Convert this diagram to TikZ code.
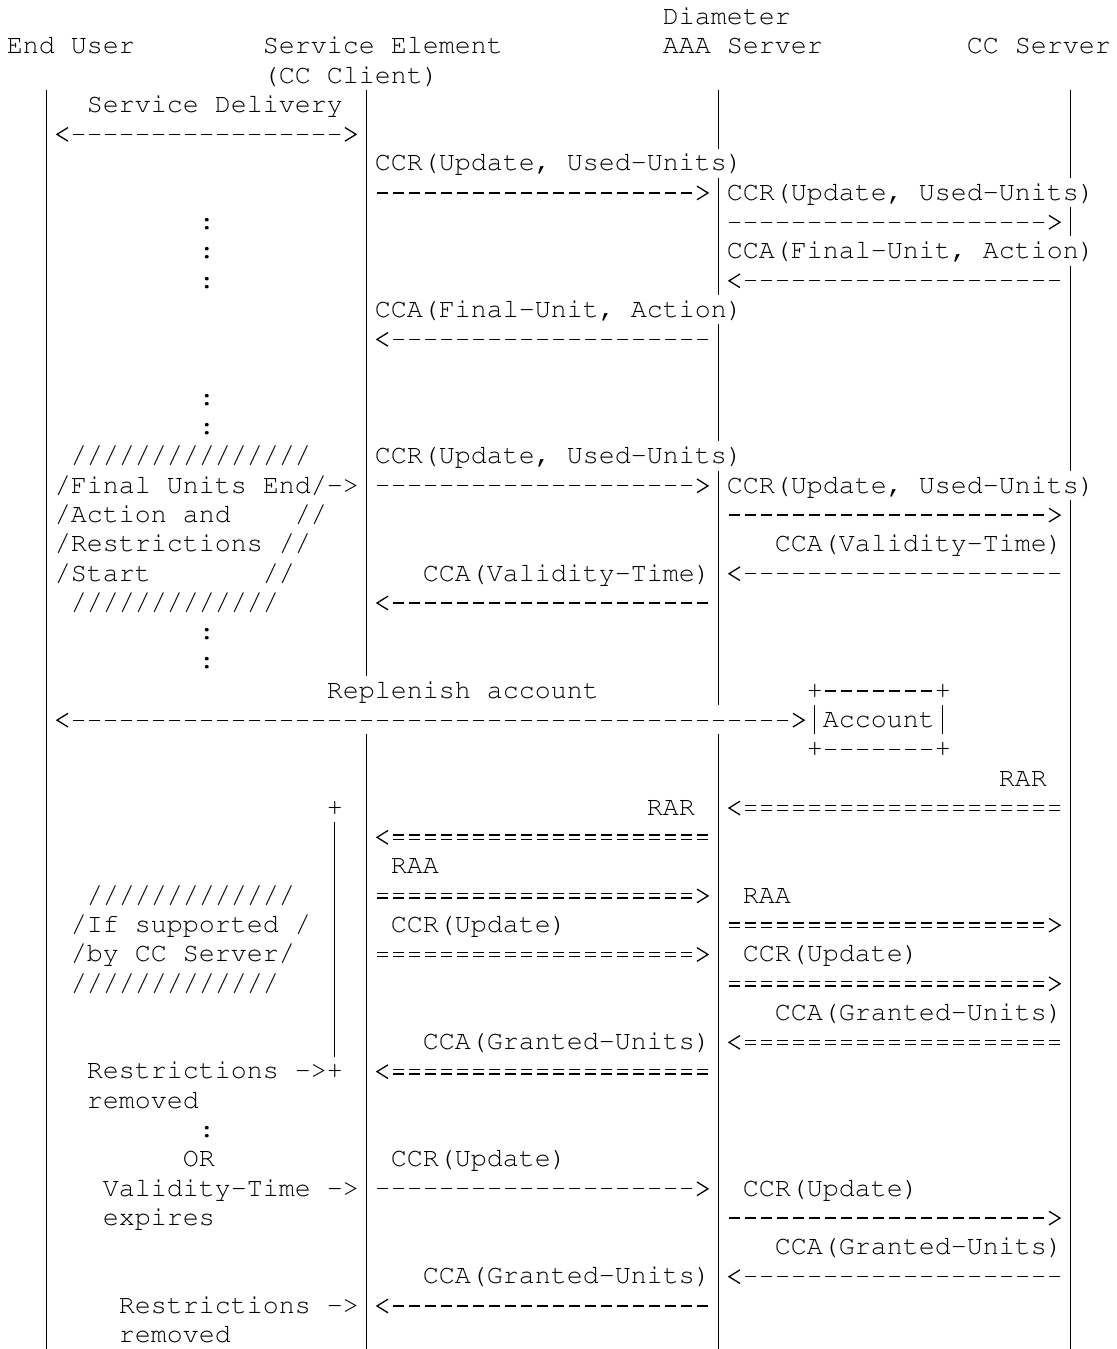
\documentclass[tikz,border=0pt]{standalone}
\usepackage[T1]{fontenc}
\usepackage{courier}
\usepackage{tikz}

% open chevrons as in the ascii arrows
\newcommand{\tipR}[1]{\draw[tipln] ([shift={(-21.5,-6.8)}]#1) -- ([shift={(-10.5,0)}]#1) -- ([shift={(-21.5,6.8)}]#1);}
\newcommand{\tipL}[1]{\draw[tipln] ([shift={(21.5,-6.8)}]#1) -- ([shift={(10.5,0)}]#1) -- ([shift={(21.5,6.8)}]#1);}

\tikzset{
	txt/.style={anchor=base west, inner sep=0pt, font=\ttfamily\fontsize{13.33pt}{16pt}\selectfont},
	life/.style={line width=.65pt},
	msg/.style={line width=.65pt, dash pattern=on 5.75pt off 2.25pt, shorten <=5.125pt, shorten >=13.125pt},
	twotips/.style={shorten <=13.125pt},
	notip/.style={shorten >=5.125pt},
	dbl/.style={double, double distance=1.55pt},
	tipln/.style={line width=.65pt, line join=miter}
}

\begin{document}
\begin{tikzpicture}[x=0.5pt, y=-0.5pt,
	declare function={xl(\u)=6.5+16*\u; xm(\u)=14.5+16*\u; yb(\v)=24.5+29.29*\v; yd(\v)=17.2+29.29*\v; yt(\v)=2.1+29.29*\v;}]
	\useasboundingbox (0,0) rectangle (1116,1349);

	% heads
	\node[txt] (hDia) at ({xl(41)},{yb(0)}) {Diameter};
	\node[txt] (hEU) at ({xl(0)},{yb(1)}) {End User};
	\node[txt] (hSE) at ({xl(16)},{yb(1)}) {Service Element};
	\node[txt] (hAAA) at ({xl(41)},{yb(1)}) {AAA Server};
	\node[txt] (hCC) at ({xl(60)},{yb(1)}) {CC Server};
	\node[txt] (hCCC) at ({xl(16)},{yb(2)}) {(CC Client)};

	% lifelines, broken where text crosses them
	\foreach \c/\a/\b in {2/3/45, 22/3/22, 22/25/45, 44/3/4, 44/6/9, 44/11/14, 44/16/23, 44/25/45, 66/3/5, 66/7/7, 66/9/15, 66/17/45}
		\draw[life] ({xm(\c)},{yt(\a)}) -- ({xm(\c)},{yt(\b+1)});

	\foreach \r in {3,...,45} {
		\coordinate (eu\r) at ({xm(2)},{yd(\r)});
		\coordinate (se\r) at ({xm(22)},{yd(\r)});
		\coordinate (aaa\r) at ({xm(44)},{yd(\r)});
		\coordinate (cc\r) at ({xm(66)},{yd(\r)});
	}

	% message labels
	\node[txt] (l3) at ({xl(5)},{yb(3)}) {Service Delivery};
	\node[txt] (l5) at ({xl(23)},{yb(5)}) {CCR(Update, Used-Units)};
	\node[txt] (l6) at ({xl(45)},{yb(6)}) {CCR(Update, Used-Units)};
	\node[txt] (l8) at ({xl(45)},{yb(8)}) {CCA(Final-Unit, Action)};
	\node[txt] (l10) at ({xl(23)},{yb(10)}) {CCA(Final-Unit, Action)};
	\node[txt] (l15) at ({xl(23)},{yb(15)}) {CCR(Update, Used-Units)};
	\node[txt] (l16) at ({xl(45)},{yb(16)}) {CCR(Update, Used-Units)};
	\node[txt] (l18) at ({xl(48)},{yb(18)}) {CCA(Validity-Time)};
	\node[txt] (l19) at ({xl(26)},{yb(19)}) {CCA(Validity-Time)};
	\node[txt] (l23) at ({xl(20)},{yb(23)}) {Replenish account};
	\node[txt] (l26) at ({xl(62)},{yb(26)}) {RAR};
	\node[txt] (l27) at ({xl(40)},{yb(27)}) {RAR};
	\node[txt] (l29) at ({xl(24)},{yb(29)}) {RAA};
	\node[txt] (l30) at ({xl(46)},{yb(30)}) {RAA};
	\node[txt] (l31) at ({xl(24)},{yb(31)}) {CCR(Update)};
	\node[txt] (l32) at ({xl(46)},{yb(32)}) {CCR(Update)};
	\node[txt] (l34) at ({xl(48)},{yb(34)}) {CCA(Granted-Units)};
	\node[txt] (l35) at ({xl(26)},{yb(35)}) {CCA(Granted-Units)};
	\node[txt] (l39) at ({xl(24)},{yb(39)}) {CCR(Update)};
	\node[txt] (l40) at ({xl(46)},{yb(40)}) {CCR(Update)};
	\node[txt] (l42) at ({xl(48)},{yb(42)}) {CCA(Granted-Units)};
	\node[txt] (l43) at ({xl(26)},{yb(43)}) {CCA(Granted-Units)};

	% notes on the end user side
	\foreach \r in {7,8,9,13,14,21,22,38}
		\node[txt] (dot\r) at ({xl(12)},{yb(\r)}) {:};
	\node[txt] (n15) at ({xl(4)},{yb(15)}) {///////////////};
	\node[txt] (n16) at ({xl(3)},{yb(16)}) {/Final Units End/->};
	\node[txt] (n17) at ({xl(3)},{yb(17)}) {/Action and};
	\node[txt] (n17b) at ({xl(18)},{yb(17)}) {//};
	\node[txt] (n18) at ({xl(3)},{yb(18)}) {/Restrictions //};
	\node[txt] (n19) at ({xl(3)},{yb(19)}) {/Start};
	\node[txt] (n19b) at ({xl(16)},{yb(19)}) {//};
	\node[txt] (n20) at ({xl(4)},{yb(20)}) {/////////////};
	\node[txt] (n30) at ({xl(5)},{yb(30)}) {/////////////};
	\node[txt] (n31) at ({xl(4)},{yb(31)}) {/If supported /};
	\node[txt] (n32) at ({xl(4)},{yb(32)}) {/by CC Server/};
	\node[txt] (n33) at ({xl(4)},{yb(33)}) {/////////////};
	\node[txt] (n36) at ({xl(5)},{yb(36)}) {Restrictions ->};
	\node[txt] (n37) at ({xl(5)},{yb(37)}) {removed};
	\node[txt] (n39) at ({xl(11)},{yb(39)}) {OR};
	\node[txt] (n40) at ({xl(6)},{yb(40)}) {Validity-Time ->};
	\node[txt] (n41) at ({xl(6)},{yb(41)}) {expires};
	\node[txt] (n44) at ({xl(7)},{yb(44)}) {Restrictions ->};
	\node[txt] (n45) at ({xl(7)},{yb(45)}) {removed};

	% bracket while restrictions hold
	\node[txt] (pk27) at ({xl(20)},{yb(27)}) {+};
	\node[txt] (pk36) at ({xl(20)},{yb(36)}) {+};
	\coordinate (pt27) at ({xm(20)},{yd(27)});
	\coordinate (pt36) at ({xm(20)},{yd(36)});
	\draw[life, shorten <=7.1pt, shorten >=7.55pt] (pt27) -- (pt36);

	% account box
	\node[txt] (acct) at ({xl(51)},{yb(24)}) {Account};
	\foreach \c in {50,58}
		\foreach \r in {23,25}
			\node[txt] (k\c-\r) at ({xl(\c)},{yb(\r)}) {+};
	\coordinate (bnw) at ({xm(50)},{yd(23)});
	\coordinate (bne) at ({xm(58)},{yd(23)});
	\coordinate (bsw) at ({xm(50)},{yd(25)});
	\coordinate (bse) at ({xm(58)},{yd(25)});
	\coordinate (bx24) at ({xm(50)},{yd(24)});
	\draw[msg, notip] (bnw) -- (bne);
	\draw[msg, notip] (bsw) -- (bse);
	\draw[life, shorten <=7.1pt, shorten >=7.55pt] (bnw) -- (bsw);
	\draw[life, shorten <=7.1pt, shorten >=7.55pt] (bne) -- (bse);

	% messages
	\draw[msg, twotips] (eu4) -- (se4); \tipL{eu4} \tipR{se4}
	\draw[msg] (se6) -- (aaa6); \tipR{aaa6}
	\draw[msg] (aaa7) -- (cc7); \tipR{cc7}
	\draw[msg] (cc9) -- (aaa9); \tipL{aaa9}
	\draw[msg] (aaa11) -- (se11); \tipL{se11}
	\draw[msg] (se16) -- (aaa16); \tipR{aaa16}
	\draw[msg] (aaa17) -- (cc17); \tipR{cc17}
	\draw[msg] (cc19) -- (aaa19); \tipL{aaa19}
	\draw[msg] (aaa20) -- (se20); \tipL{se20}
	\draw[msg, twotips] (eu24) -- (bx24); \tipL{eu24} \tipR{bx24}

	\draw[msg, dbl] (cc27) -- (aaa27); \tipL{aaa27}
	\draw[msg, dbl] (aaa28) -- (se28); \tipL{se28}
	\draw[msg, dbl] (se30) -- (aaa30); \tipR{aaa30}
	\draw[msg, dbl] (aaa31) -- (cc31); \tipR{cc31}
	\draw[msg, dbl] (se32) -- (aaa32); \tipR{aaa32}
	\draw[msg, dbl] (aaa33) -- (cc33); \tipR{cc33}
	\draw[msg, dbl] (cc35) -- (aaa35); \tipL{aaa35}
	\draw[msg, dbl] (aaa36) -- (se36); \tipL{se36}

	\draw[msg] (se40) -- (aaa40); \tipR{aaa40}
	\draw[msg] (aaa41) -- (cc41); \tipR{cc41}
	\draw[msg] (cc43) -- (aaa43); \tipL{aaa43}
	\draw[msg] (aaa44) -- (se44); \tipL{se44}
\end{tikzpicture}
\end{document}
